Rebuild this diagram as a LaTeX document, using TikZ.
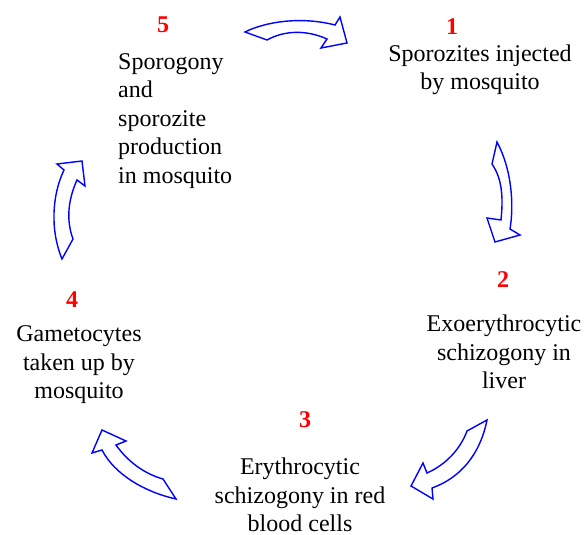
\documentclass[tikz,border=0pt]{standalone}
\usepackage{fontspec}
\setmainfont{Liberation Serif}[BoldFont={Liberation Serif Bold}]
\newfontfamily\timesf{Liberation Serif}[BoldFont={Liberation Serif Bold}]
\begin{document}
\begin{tikzpicture}[x=1pt,y=-1pt,
  lbl/.style={font=\timesf\fontsize{24}{28.5}\selectfont, inner sep=0pt, align=center},
  num/.style={font=\timesf\fontsize{24}{28.5}\selectfont\bfseries, text=red, inner sep=0pt},
  cyc/.style={draw=blue, line width=1.4pt, fill=white, line join=miter}]
\useasboundingbox (0,0) rectangle (587,535);
% numbers
\node[num] (n5) at (163,25) {5};
\node[num] (n1) at (452,27) {1};
\node[num] (n2) at (503,280) {2};
\node[num] (n3) at (305,420) {3};
\node[num] (n4) at (72,300) {4};
% labels
\node[lbl, align=left, anchor=west] (t5) at (118,121) {Sporogony\\and\\sporozite\\production\\in mosquito};
\node[lbl] (t1) at (480,70) {Sporozites injected\\by mosquito};
\node[lbl] (t2) at (504,352) {Exoerythrocytic\\schizogony in\\liver};
\node[lbl] (t3) at (300,495) {Erythrocytic\\schizogony in red\\blood cells};
\node[lbl] (t4) at (79,365) {Gametocytes\\taken up by\\mosquito};
% curved block arrows
\draw[cyc] (245,32) .. controls (265,22) and (300,16) .. (335,25) -- (340,17) -- (347,43) -- (321,48) -- (327,39) .. controls (307,30) and (285,30) .. (267,40) -- cycle;
\draw[cyc] (497,142) -- (492,164) .. controls (503,180) and (503,200) .. (501,220) -- (487,218) -- (495,242) -- (520,235) -- (510,229) .. controls (514,205) and (512,170) .. (497,142) -- cycle;
\draw[cyc] (487,420) -- (467,431) .. controls (460,450) and (445,465) .. (427,473) -- (423,463) -- (411,486) -- (433,499) -- (432,488) .. controls (460,478) and (480,455) .. (487,420) -- cycle;
\draw[cyc] (102,430) -- (126,441) -- (116,445) .. controls (128,462) and (145,474) .. (163,479) -- (176,499) .. controls (145,492) and (115,475) .. (102,450) -- (92,453) -- cycle;
\draw[cyc] (62,259) .. controls (50,230) and (52,195) .. (64,170) -- (57,164) -- (82,161) -- (85,186) -- (77,180) .. controls (68,200) and (66,220) .. (73,239) -- cycle;
\end{tikzpicture}
\end{document}
